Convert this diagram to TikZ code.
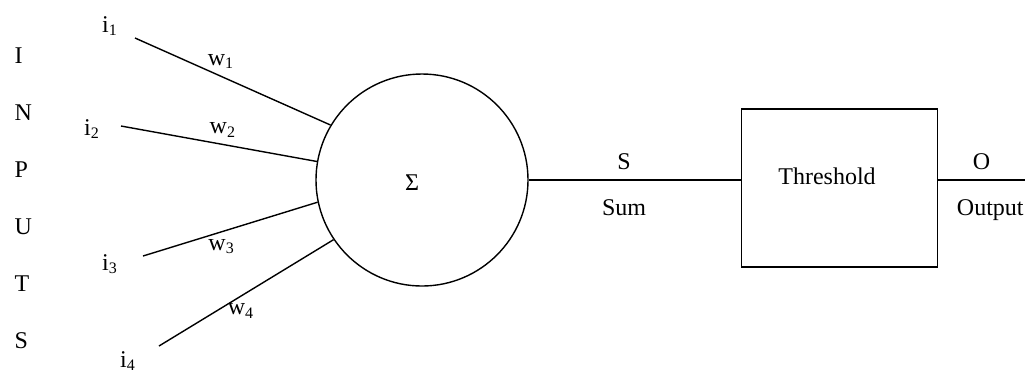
\documentclass[tikz,border=0pt]{standalone}
\usepackage{fontspec}
\setmainfont{Liberation Serif}
\usetikzlibrary{positioning}

\begin{document}
\begin{tikzpicture}[
        x=0.5pt, y=-0.5pt,
        font=\fontsize{12}{14}\selectfont,
        line width=0.7pt,
        neuron/.style={circle, draw, minimum size=106pt, inner sep=0pt},
        block/.style={rectangle, draw, minimum width=98pt, minimum height=79pt, inner sep=0pt},
        letter/.style={anchor=base west, inner sep=0pt}
    ]
        \useasboundingbox (0,0) rectangle (1027,372);

        % INPUTS column
        \node[letter] (LI) at (14,63) {I};
        \node[letter] (LN) at (14,120) {N};
        \node[letter] (LP) at (14,177) {P};
        \node[letter] (LU) at (14,234) {U};
        \node[letter] (LT) at (14,291) {T};
        \node[letter] (LS) at (14,348) {S};

        \node[neuron] (SUM) at (422,180) {};
        \node (SIGMA) at (412,183) {Σ};
        \node[block, right=106pt of SUM, yshift=-4pt] (THRESH) {};
        \node (THRTEXT) at (827,176) {Threshold};

        % inputs
        \coordinate (IN1) at (135,38);
        \coordinate (IN2) at (121,126);
        \coordinate (IN3) at (143,256);
        \coordinate (IN4) at (159,346);
        \node (I1) at (110,26) {i\textsubscript{1}};
        \node (I2) at (92,129) {i\textsubscript{2}};
        \node (I3) at (110,264) {i\textsubscript{3}};
        \node (I4) at (128,361) {i\textsubscript{4}};

        \draw (IN1) -- (SUM.149) node[pos=.44, above] (W1) {w\textsubscript{1}};
        \draw (IN2) -- (SUM.170) node[pos=.52, above] (W2) {w\textsubscript{2}};
        \draw (IN3) -- (SUM.192) node[pos=.45, below] (W3) {w\textsubscript{3}};
        \draw (IN4) -- (SUM.214) node[pos=.47, below] (W4) {w\textsubscript{4}};

        % sum and output
        \draw (SUM.east) -- (SUM.east -| THRESH.west)
            node[pos=.45, above=1.5pt] (SLBL) {S}
            node[pos=.45, below=6pt] (SUMLBL) {Sum};
        \coordinate (OUT) at (1025,180);
        \draw (SUM.east -| THRESH.east) -- (OUT)
            node[pos=.5, above=1.5pt] (OLBL) {O}
            node[pos=.6, below=6pt] (OUTLBL) {Output};
    \end{tikzpicture}
\end{document}
